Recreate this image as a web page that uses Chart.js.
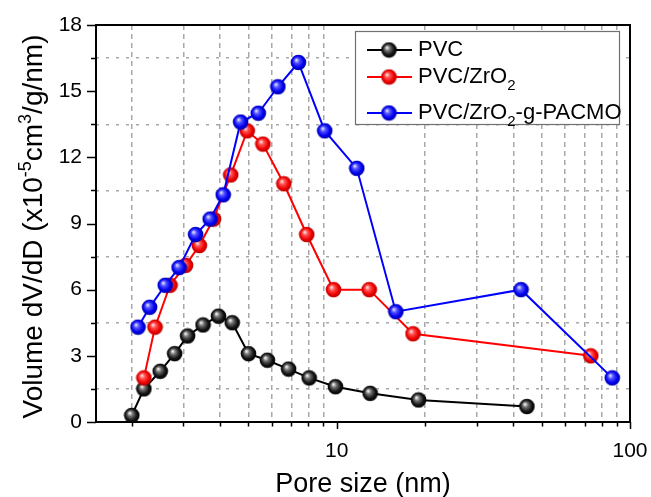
<!DOCTYPE html>
<html>
<head>
<meta charset="utf-8">
<script src="https://cdn.jsdelivr.net/npm/chart.js@4/dist/chart.umd.min.js"></script>
<style>
  html, body { margin: 0; padding: 0; background: #fff; }
  canvas { display: block; }
</style>
</head>
<body>
<canvas id="mychart" width="651" height="497"></canvas>
<script>
// series (pore size in nm, dV/dD in 1e-5 cm3/g/nm)
const pvcX = [2.0, 2.2, 2.5, 2.8, 3.1, 3.5, 3.95, 4.4, 5.0, 5.8, 6.85, 8.05, 9.9, 13, 19, 44.5];
const pvcY = [0.3, 1.5, 2.3, 3.1, 3.9, 4.4, 4.8, 4.5, 3.1, 2.8, 2.4, 2.0, 1.6, 1.3, 1.0, 0.7];
const zrX = [2.2, 2.4, 2.7, 3.05, 3.4, 3.8, 4.35, 4.95, 5.6, 6.6, 7.9, 9.75, 12.9, 18.2, 73.5];
const zrY = [2.0, 4.3, 6.2, 7.1, 8.0, 9.2, 11.2, 13.2, 12.6, 10.8, 8.5, 6.0, 6.0, 4.0, 3.0];
const pacX = [2.1, 2.3, 2.6, 2.9, 3.3, 3.7, 4.1, 4.7, 5.4, 6.3, 7.4, 9.1, 11.7, 15.9, 42.5, 87];
const pacY = [4.3, 5.2, 6.2, 7.0, 8.5, 9.2, 10.3, 13.6, 14.0, 15.2, 16.3, 13.2, 11.5, 5.0, 6.0, 2.0];

const seriesNames = ["PVC", "PVC/ZrO\u2082", "PVC/ZrO\u2082-g-PACMO"];
const xTickValues = [2, 3, 4, 5, 6, 7, 8, 9, 10, 20, 30, 40, 50, 60, 70, 80, 90, 100];
const xTickLabels = { 10: "10", 100: "100" };
const yTickValues = [0, 1.5, 3, 4.5, 6, 7.5, 9, 10.5, 12, 13.5, 15, 16.5, 18];
const xTitle = "Pore size (nm)";
const yTitleParts = [["Volume dV/dD (x10", 0], ["-5", 1], ["cm", 0], ["3", 1], ["/g/nm)", 0]];

const FONT = "'Liberation Sans', Arial, sans-serif";

// little shaded ball used as marker
const makeBall = function(light, mid, base, dark) {
    let c = document.createElement("canvas");
    c.width = 17; c.height = 17;
    let g = c.getContext("2d");
    let grad = g.createRadialGradient(6.3, 6, 0.4, 8.5, 8.5, 8);
    grad.addColorStop(0, light);
    grad.addColorStop(0.3, mid);
    grad.addColorStop(0.7, base);
    grad.addColorStop(1, dark);
    g.fillStyle = grad;
    g.beginPath();
    g.arc(8.5, 8.5, 7.8, 0, Math.PI * 2);
    g.fill();
    return c;
};
const balls = [
    makeBall("#f4f4f4", "#707070", "#141414", "#000"),
    makeBall("#ffe0e0", "#ff5050", "#f00000", "#b00000"),
    makeBall("#e0e0ff", "#5050ff", "#0000f0", "#0000a0")
];
const colors = ["#000000", "#ff0000", "#0000ff"];

const toPoints = (xs, ys) => xs.map((x, i) => ({ x: x, y: ys[i] }));

const datasets = [[pvcX, pvcY], [zrX, zrY], [pacX, pacY]].map(function(s, i) {
    return {
        label: seriesNames[i],
        data: toPoints(s[0], s[1]),
        borderColor: colors[i],
        borderWidth: 2,
        pointStyle: balls[i],
        pointRadius: 8,
        order: 2 - i,
        tension: 0
    };
});

// frame, tick marks, titles and legend
const decor = {
    id: "decor",
    beforeDatasetsDraw(chart) {
        const ctx = chart.ctx, a = chart.chartArea;
        const xs = chart.scales.x, ys = chart.scales.y;
        ctx.save();
        ctx.strokeStyle = "#000";
        ctx.lineWidth = 1.5;
        ctx.beginPath();
        xTickValues.forEach(function(v) {
            let px = Math.round(xs.getPixelForValue(v)) + 0.5;
            let len = xTickLabels[v] ? 7 : 4.5;
            ctx.moveTo(px, a.bottom);
            ctx.lineTo(px, a.bottom + len);
        });
        yTickValues.forEach(function(v) {
            let py = Math.round(ys.getPixelForValue(v)) + 0.5;
            let len = (v % 3 === 0) ? 9 : 5;
            ctx.moveTo(a.left, py);
            ctx.lineTo(a.left - len, py);
        });
        ctx.stroke();
        ctx.lineWidth = 2;
        ctx.strokeRect(a.left, a.top, a.right - a.left, a.bottom - a.top);
        ctx.restore();
    },
    afterDraw(chart) {
        const ctx = chart.ctx, a = chart.chartArea;
        ctx.save();
        ctx.fillStyle = "#000";
        // x title
        ctx.font = "27px " + FONT;
        ctx.textAlign = "center";
        ctx.textBaseline = "alphabetic";
        ctx.fillText(xTitle, (a.left + a.right) / 2, 491.5);
        // y title with superscripts
        const big = 28, small = 18;
        let total = 0;
        yTitleParts.forEach(function(p) {
            ctx.font = (p[1] ? small : big) + "px " + FONT;
            total += ctx.measureText(p[0]).width;
        });
        ctx.translate(42, (a.top + a.bottom) / 2 + 3);
        ctx.rotate(-Math.PI / 2);
        ctx.textAlign = "left";
        let cx = -total / 2;
        yTitleParts.forEach(function(p) {
            ctx.font = (p[1] ? small : big) + "px " + FONT;
            ctx.fillText(p[0], cx, p[1] ? -11 : 0);
            cx += ctx.measureText(p[0]).width;
        });
        ctx.restore();

        // legend box
        ctx.save();
        ctx.fillStyle = "#fff";
        ctx.fillRect(355, 31, 264, 93);
        ctx.strokeStyle = "#707070";
        ctx.lineWidth = 1.2;
        ctx.strokeRect(355.5, 31.5, 264, 93);
        const rows = [50, 77, 113];
        chart.data.datasets.forEach(function(ds, i) {
            let y = rows[i];
            ctx.strokeStyle = ds.borderColor;
            ctx.lineWidth = 2;
            ctx.beginPath();
            ctx.moveTo(367, y);
            ctx.lineTo(412, y);
            ctx.stroke();
            ctx.drawImage(balls[i], 389 - 8.5, y - 8.5);
            // label, subscript "2" drawn smaller and lower
            ctx.fillStyle = "#000";
            ctx.textBaseline = "middle";
            ctx.textAlign = "left";
            let parts = ds.label.split("\u2082");
            let tx = 418;
            parts.forEach(function(t, k) {
                ctx.font = "22px " + FONT;
                ctx.fillText(t, tx, y);
                tx += ctx.measureText(t).width;
                if (k < parts.length - 1) {
                    ctx.font = "15px " + FONT;
                    ctx.fillText("2", tx, y + 9);
                    tx += ctx.measureText("2").width;
                }
            });
        });
        ctx.restore();
    }
};

const ctx = document.getElementById("mychart").getContext("2d");
const myChart = new Chart(ctx, {
    type: "line",
    data: { datasets: datasets },
    options: {
        responsive: false,
        animation: false,
        devicePixelRatio: 1,
        layout: { padding: { top: 25, right: 21, left: 0, bottom: 0 } },
        plugins: { legend: { display: false }, tooltip: { enabled: false } },
        scales: {
            x: {
                type: "logarithmic",
                min: 1.51,
                max: 100,
                afterBuildTicks: function(scale) {
                    scale.ticks = xTickValues.map(v => ({ value: v }));
                },
                afterFit: function(scale) {
                    scale.height = 75;
                    scale.paddingLeft = 0;
                    scale.paddingRight = 0;
                },
                ticks: {
                    autoSkip: false,
                    maxRotation: 0,
                    padding: 17,
                    color: "#000",
                    font: { family: FONT, size: 21 },
                    callback: function(v) { return xTickLabels[v] || ""; }
                },
                grid: {
                    drawTicks: false,
                    color: ctx => xTickLabels[ctx.tick.value] ? "rgba(0,0,0,0)" : "#a8a8a8",
                    lineWidth: 1.5
                },
                border: { display: false, dash: [5, 4] }
            },
            y: {
                type: "linear",
                min: 0,
                max: 18,
                afterBuildTicks: function(scale) {
                    scale.ticks = yTickValues.map(v => ({ value: v }));
                },
                afterFit: function(scale) {
                    scale.width = 96;
                    scale.paddingTop = 0;
                    scale.paddingBottom = 0;
                },
                ticks: {
                    padding: 14,
                    color: "#000",
                    font: { family: FONT, size: 21 },
                    callback: function(v) { return v % 3 === 0 ? String(v) : ""; }
                },
                grid: {
                    drawTicks: false,
                    color: ctx => ctx.tick.value % 3 === 0 ? "rgba(0,0,0,0)" : "#a8a8a8",
                    lineWidth: 1.5
                },
                border: { display: false, dash: [3, 7] }
            }
        }
    },
    plugins: [decor]
});
</script>
</body>
</html>
